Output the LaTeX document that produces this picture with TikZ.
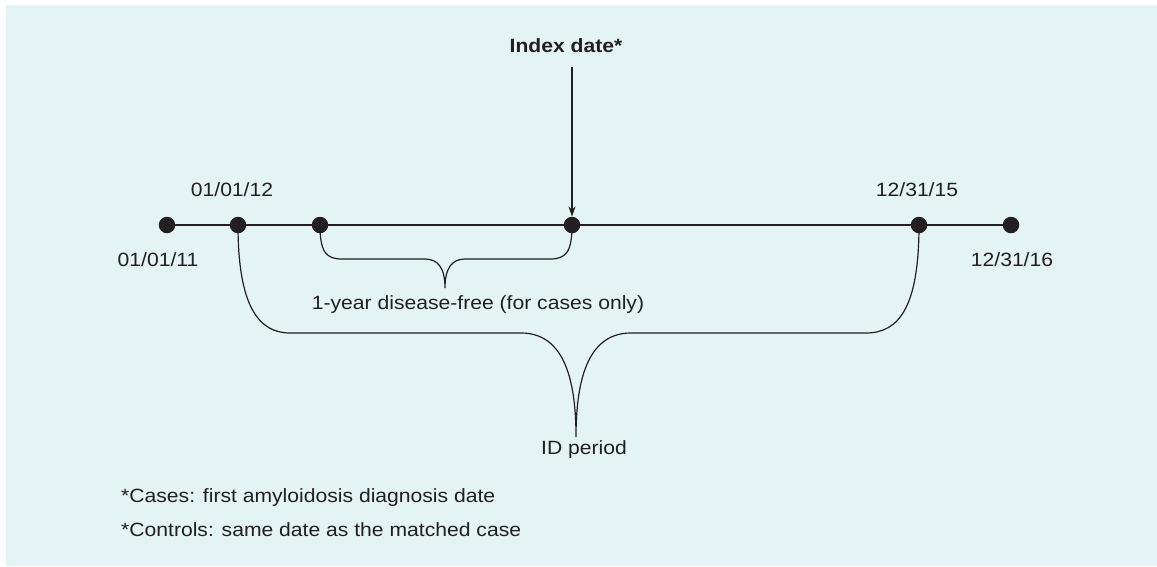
\documentclass[tikz,border=0pt]{standalone}
\usepackage{fontspec}
\setmainfont{Liberation Sans}[FakeStretch=1.1]
\usetikzlibrary{arrows.meta}
\definecolor{bgc}{HTML}{E4F3F3}
\definecolor{ink}{HTML}{231F20}
\tikzset{
  dot/.style={circle,fill=ink,minimum size=16.5pt,inner sep=0pt},
  lbl/.style={text=ink,font=\fontsize{19.2}{23}\selectfont,inner sep=0pt},
  note/.style={text=ink,font=\fontsize{19.2}{23}\selectfont,inner sep=0pt,anchor=base west},
  tl/.style={draw=ink,line width=1.4pt},
  brace/.style={draw=ink,line width=1.2pt},
  arr/.style={draw=ink,line width=1.2pt,-{Stealth[length=10pt,width=7pt]}}
}
\begin{document}
\begin{tikzpicture}[x=1pt,y=-1pt]
\useasboundingbox (0,0) rectangle (1157,566);
\fill[bgc] (6,5) rectangle (1157,566);
% dots
\node[dot] (d1) at (167,225) {};
\node[dot] (d2) at (238,225) {};
\node[dot] (d3) at (320,225) {};
\node[dot] (d4) at (572,225) {};
\node[dot] (d5) at (919,225) {};
\node[dot] (d6) at (1011,225) {};
\draw[tl] (d1) -- (d2) -- (d3) -- (d4) -- (d5) -- (d6);
% labels
\node[lbl] (l1) at (158,260) {01/01/11};
\node[lbl] (l2) at (232,190) {01/01/12};
\node[lbl] (l5) at (917,190) {12/31/15};
\node[lbl] (l6) at (1012,260) {12/31/16};
\node[lbl,font=\fontsize{19.2}{23}\selectfont\bfseries] (idx) at (566,46) {Index date*};
\coordinate (astart) at (572,67);
\draw[arr] (astart) -- (d4.north);
% small brace
\coordinate (t1) at (445,288);
\draw[brace] (d3.center) .. controls (320,252) and (326,259) .. (342,259)
  -- (425,259) .. controls (438,259) and (445,268) .. (t1)
  .. controls (445,268) and (452,259) .. (465,259)
  -- (550,259) .. controls (566,259) and (572,252) .. (d4.center);
\node[lbl] (t1l) at (478,305) {1-year disease-free (for cases only)};
% big brace
\coordinate (t2) at (576,437);
\draw[brace] (d2.center) .. controls (238,305) and (258,333) .. (290,333)
  -- (521,333) .. controls (562,333) and (576,375) .. (t2)
  .. controls (576,375) and (590,333) .. (631,333)
  -- (866,333) .. controls (900,333) and (919,305) .. (d5.center);
\node[lbl] (t2l) at (584,450) {ID period};
% notes
\node[note] (n1) at (121,502) {*Cases: first amyloidosis diagnosis date};
\node[note] (n2) at (121,536) {*Controls: same date as the matched case};
\end{tikzpicture}
\end{document}
